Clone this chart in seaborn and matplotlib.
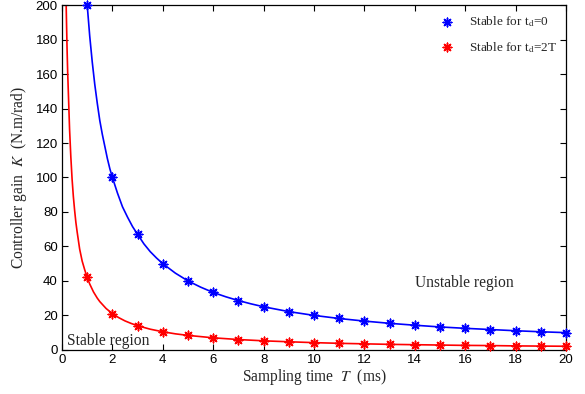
import matplotlib
matplotlib.use("Agg")
import matplotlib.pyplot as plt
import seaborn as sns
import pandas as pd

# Curve samples
T_blue_curve = [1.0, 1.1, 1.2, 1.3, 1.4, 1.5, 1.6, 1.7, 1.8, 1.9, 2.0, 2.2, 2.4, 2.6, 2.8, 3.0,
                3.25, 3.5, 3.75, 4.0, 4.5, 5.0, 5.5, 6.0, 6.5, 7.0, 7.5, 8.0, 9.0, 10.0,
                11.0, 12.0, 13.0, 14.0, 15.0, 16.0, 17.0, 18.0, 19.0, 20.0]
K_blue_curve = [200, 182, 167, 154, 143, 133, 125, 118, 111, 105, 100, 91, 83, 77, 71.5, 67,
                61.5, 57, 53.3, 50, 44.5, 40, 36.4, 33.3, 30.8, 28.6, 26.7, 25, 22.2, 20,
                18.2, 16.7, 15.4, 14.3, 13.3, 12.5, 11.8, 11.1, 10.5, 10]
T_red_curve = [0.165, 0.18, 0.2, 0.225, 0.25, 0.3, 0.35, 0.4, 0.45, 0.5, 0.55, 0.6, 0.7, 0.8, 0.9,
               1.0, 1.1, 1.25, 1.4, 1.5, 1.75, 2.0, 2.25, 2.5, 2.75, 3.0, 3.5, 4.0, 4.5, 5.0,
               6.0, 7.0, 8.0, 9.0, 10.0, 11.0, 12.0, 13.0, 14.0, 15.0, 16.0,
               17.0, 18.0, 19.0, 20.0]
K_red_curve = [200, 189, 175, 161, 150, 128, 112, 99, 89, 81, 74, 68.5, 58.5, 51.5, 46.5,
               42, 38.2, 33.6, 30, 28, 24, 21, 18.7, 16.8, 15.3, 14, 12, 10.5, 9.3, 8.4,
               7, 6, 5.25, 4.7, 4.2, 3.8, 3.5, 3.2, 3.0, 2.8, 2.6,
               2.5, 2.3, 2.2, 2.1]

# Marker values at integer sampling times
T_marks = list(range(1, 21))
K_blue_marks = [200, 100, 67, 50, 40, 33.3, 28.6, 25, 22.2, 20, 18.2, 16.7, 15.4, 14.3, 13.3,
                12.5, 11.8, 11.1, 10.5, 10]
K_red_marks = [42, 21, 14, 10.5, 8.4, 7, 6, 5.25, 4.7, 4.2, 3.8, 3.5, 3.2, 3.0, 2.8, 2.6,
               2.5, 2.3, 2.2, 2.1]

labels = [r"Stable for t$_{\mathrm{d}}$=0", r"Stable for t$_{\mathrm{d}}$=2T"]
x_ticks = [0, 2, 4, 6, 8, 10, 12, 14, 16, 18, 20]
y_ticks = [0, 20, 40, 60, 80, 100, 120, 140, 160, 180, 200]

sns.set_theme(style="ticks")
plt.rcParams["font.family"] = ["Liberation Sans", "DejaVu Sans"]
plt.rcParams["mathtext.fontset"] = "stix"

fig = plt.figure(figsize=(5.85, 3.94), dpi=100)
ax = fig.add_axes([0.106, 0.112, 0.8615, 0.875])

star = (8, 2, 0)
sns.lineplot(x=T_blue_curve, y=K_blue_curve, color="#0000ff", lw=1.2, ax=ax, sort=False)
sns.lineplot(x=T_red_curve, y=K_red_curve, color="#ff0000", lw=1.2, ax=ax, sort=False)
sns.scatterplot(x=T_marks, y=K_blue_marks, color="#0000ff", marker=star, s=38,
                linewidth=1.1, edgecolor="#0000ff", ax=ax, label=labels[0], clip_on=False, zorder=5)
sns.scatterplot(x=T_marks, y=K_red_marks, color="#ff0000", marker=star, s=38,
                linewidth=1.1, edgecolor="#ff0000", ax=ax, label=labels[1], clip_on=False, zorder=5)

ax.set_xlim(0, 20)
ax.set_ylim(0, 200)
ax.set_xticks(x_ticks)
ax.set_yticks(y_ticks)
ax.tick_params(direction="in", top=True, right=True, labelsize=9.5, length=4, width=0.8,
               colors="black", pad=3)
for s in ax.spines.values():
    s.set_linewidth(0.9)
    s.set_color("black")

serif = ["Liberation Serif", "DejaVu Serif"]
ax.set_xlabel(r"Sampling time  $T$  (ms)", fontsize=11.2, family=serif, labelpad=1)
ax.set_ylabel(r"Controller gain  $K$  (N.m/rad)", fontsize=11.2, family=serif, labelpad=5)
ax.text(0.2, 0.5, "Stable region", fontsize=11.2, family=serif, ha="left", va="bottom")
ax.text(15.95, 38.8, "Unstable region", fontsize=11.2, family=serif, ha="center", va="center")

leg = ax.legend(loc="upper right", frameon=False, prop={"family": serif, "size": 9.5},
                handletextpad=0.6, borderaxespad=0.3, labelspacing=0.8, markerscale=1.0)

fig.savefig("out.png", dpi=100)
